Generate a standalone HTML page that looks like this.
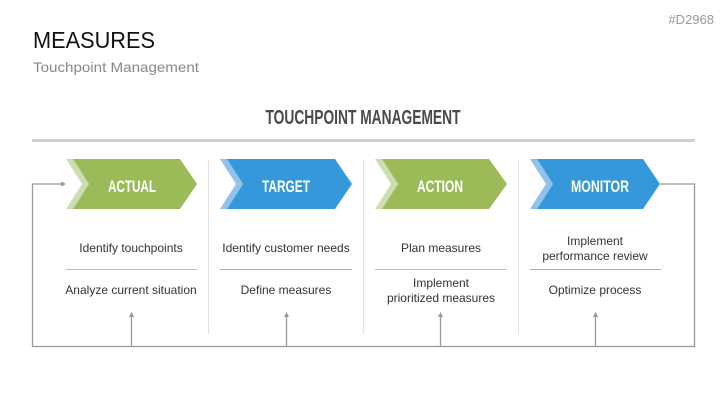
<!DOCTYPE html>
<html><head><meta charset="utf-8"><style>
body{margin:0;background:#fff;}
svg{display:block;}
</style></head><body>
<svg width="727" height="409" viewBox="0 0 727 409" xmlns="http://www.w3.org/2000/svg" font-family="Liberation Sans, sans-serif">
<rect width="727" height="409" fill="#fff"/>
<text x="33" y="48" font-size="23" fill="#111" textLength="122" lengthAdjust="spacingAndGlyphs">MEASURES</text>
<text x="33" y="72" font-size="14" fill="#888" textLength="166" lengthAdjust="spacingAndGlyphs">Touchpoint Management</text>
<text x="714" y="24" font-size="13" fill="#999" text-anchor="end">#D2968</text>
<text x="363" y="124" font-size="20" font-weight="bold" fill="#4a4a4a" text-anchor="middle" textLength="195" lengthAdjust="spacingAndGlyphs">TOUCHPOINT MANAGEMENT</text>
<rect x="32" y="139" width="663" height="3" fill="#cfcfcf"/>
<g stroke="#e2e2e2" stroke-width="1">
<line x1="208.5" y1="160" x2="208.5" y2="334"/>
<line x1="363.5" y1="160" x2="363.5" y2="334"/>
<line x1="518.5" y1="160" x2="518.5" y2="334"/>
</g>
<g>
<polygon points="66,159 73,159 89,184 73,209 66,209 82,184" fill="#cddfb2"/>
<polygon points="73,159 180,159 197,184 180,209 73,209 89,184" fill="#9bbb59"/>
<polygon points="220,159 227,159 243,184 227,209 220,209 236,184" fill="#8fc3ea"/>
<polygon points="227,159 335,159 352,184 335,209 227,209 243,184" fill="#3498db"/>
<polygon points="375,159 382,159 398,184 382,209 375,209 391,184" fill="#cddfb2"/>
<polygon points="382,159 489,159 507,184 489,209 382,209 398,184" fill="#9bbb59"/>
<polygon points="530,159 537,159 553,184 537,209 530,209 546,184" fill="#8fc3ea"/>
<polygon points="537,159 643,159 660,184 643,209 537,209 553,184" fill="#3498db"/>
</g>
<g fill="#fff" font-size="17" font-weight="bold" text-anchor="middle">
<text x="132" y="192" textLength="48" lengthAdjust="spacingAndGlyphs">ACTUAL</text>
<text x="286" y="192" textLength="48" lengthAdjust="spacingAndGlyphs">TARGET</text>
<text x="440" y="192" textLength="46" lengthAdjust="spacingAndGlyphs">ACTION</text>
<text x="600" y="192" textLength="58" lengthAdjust="spacingAndGlyphs">MONITOR</text>
</g>
<g stroke-width="1">
<line x1="66" y1="269.5" x2="197" y2="269.5" stroke="#b5cc8a"/>
<line x1="220" y1="269.5" x2="352" y2="269.5" stroke="#7fb6e3"/>
<line x1="375" y1="269.5" x2="507" y2="269.5" stroke="#b5cc8a"/>
<line x1="530" y1="269.5" x2="661" y2="269.5" stroke="#7fb6e3"/>
</g>
<g font-size="12" fill="#333" text-anchor="middle">
<text x="131" y="252">Identify touchpoints</text>
<text x="131" y="294">Analyze current situation</text>
<text x="286" y="252">Identify customer needs</text>
<text x="286" y="294">Define measures</text>
<text x="441" y="252">Plan measures</text>
<text x="441" y="287">Implement</text>
<text x="441" y="302">prioritized measures</text>
<text x="595" y="245">Implement</text>
<text x="595" y="260">performance review</text>
<text x="595" y="294">Optimize process</text>
</g>
<g stroke="#999" stroke-width="1.3" fill="none">
<polyline points="660,184 694.5,184 694.5,346.5 32.5,346.5 32.5,184 62,184"/>
<line x1="131.5" y1="346" x2="131.5" y2="316"/>
<line x1="286.5" y1="346" x2="286.5" y2="316"/>
<line x1="440.5" y1="346" x2="440.5" y2="316"/>
<line x1="595.5" y1="346" x2="595.5" y2="316"/>
</g>
<g fill="#999">
<polygon points="66,184 61,181.5 61,186.5"/>
<polygon points="131.5,312 129,317 134,317"/>
<polygon points="286.5,312 284,317 289,317"/>
<polygon points="440.5,312 438,317 443,317"/>
<polygon points="595.5,312 593,317 598,317"/>
</g>
</svg>
</body></html>
